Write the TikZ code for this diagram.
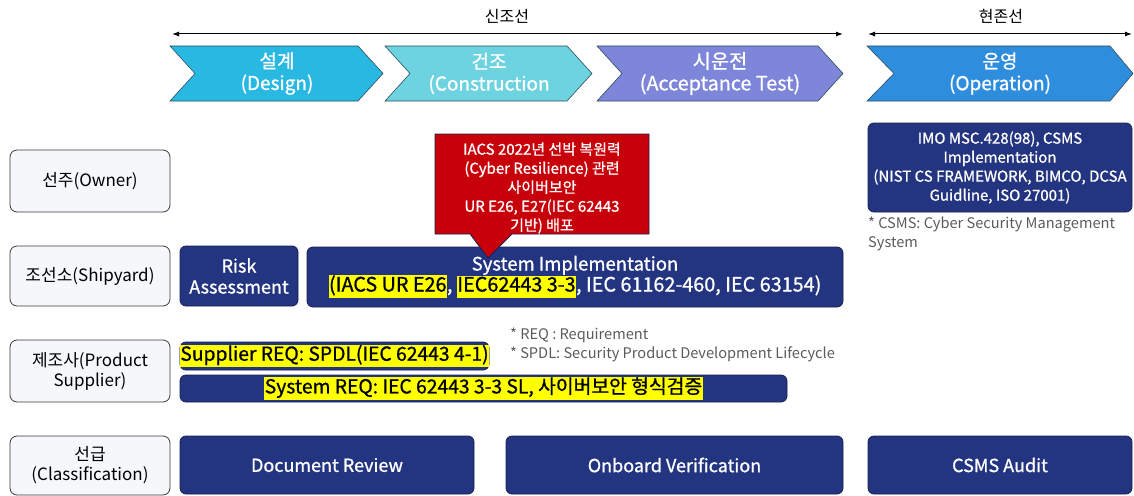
\documentclass[tikz,border=0pt]{standalone}
\usepackage{fontspec}
\setmainfont{Noto Sans CJK KR}
\newfontfamily\medfont[FakeBold=0.9]{Noto Sans CJK KR}
\usetikzlibrary{arrows.meta}
\definecolor{navy}{HTML}{233480}
\definecolor{navyline}{HTML}{1A2250}
\definecolor{labfill}{HTML}{F5F7FA}
\definecolor{labline}{HTML}{3A3A3A}
\definecolor{calred}{HTML}{C70009}
\definecolor{chevA}{HTML}{29B8E2}
\definecolor{chevB}{HTML}{6DD3E0}
\definecolor{chevC}{HTML}{7D86D9}
\definecolor{chevD}{HTML}{2F8DDE}
\definecolor{chevline}{HTML}{2E4E5E}
\definecolor{notegray}{HTML}{5A5A5A}
\definecolor{hly}{HTML}{FFFF00}
\newcommand{\hlt}[1]{{\setlength{\fboxsep}{0.4pt}\colorbox{hly}{\strut\color{black}#1}}}
\tikzset{
  labbox/.style={draw=labline, fill=labfill, line width=0.8pt, rounded corners=7pt,
    align=center, font=\fontsize{17}{20}\selectfont, text=black, inner sep=0pt},
  navybox/.style={draw=navyline, fill=navy, line width=0.8pt, rounded corners=6pt,
    align=center, font=\medfont\fontsize{18}{21}\selectfont, text=white, inner sep=0pt},
  chevshape/.style={draw=chevline, line width=0.6pt},
  chevtext/.style={align=center, font=\medfont\fontsize{19}{22}\selectfont, text=white},
  notetext/.style={align=left, text=notegray, font=\fontsize{14.6}{19}\selectfont, inner sep=0pt},
  toplabel/.style={font=\fontsize{16}{19}\selectfont, text=black},
  spanarrow/.style={{Latex[length=7pt,width=5pt]}-{Latex[length=7pt,width=5pt]}, line width=1pt},
}
\begin{document}
\begin{tikzpicture}[x=1pt,y=-1pt]
\useasboundingbox (0,0) rectangle (1134,495);

% top spans
\coordinate (nbL) at (172,34);
\coordinate (nbR) at (843,34);
\coordinate (exL) at (868,34);
\coordinate (exR) at (1132,34);
\draw[spanarrow] (nbL) -- (nbR);
\draw[spanarrow] (exL) -- (exR);
\node[toplabel] (newbuild) at (507,16) {신조선};
\node[toplabel] (existing) at (1001,16) {현존선};

% chevrons
\fill[chevA] (170,46) -- (358,46) -- (383,73.5) -- (358,101) -- (170,101) -- (195,73.5) -- cycle;
\draw[chevshape] (170,46) -- (358,46) -- (383,73.5) -- (358,101) -- (170,101) -- (195,73.5) -- cycle;
\node[chevtext] (design) at (277,73.5) {설계\\(Design)};

\fill[chevB] (385,46) -- (567,46) -- (592,73.5) -- (567,101) -- (385,101) -- (410,73.5) -- cycle;
\draw[chevshape] (385,46) -- (567,46) -- (592,73.5) -- (567,101) -- (385,101) -- (410,73.5) -- cycle;
\node[chevtext] (constr) at (489,73.5) {건조\\(Construction};

\fill[chevC] (597,46) -- (818,46) -- (843,73.5) -- (818,101) -- (597,101) -- (622,73.5) -- cycle;
\draw[chevshape] (597,46) -- (818,46) -- (843,73.5) -- (818,101) -- (597,101) -- (622,73.5) -- cycle;
\node[chevtext, font=\medfont\fontsize{19.8}{22}\selectfont] (accept) at (720,73.5) {시운전\\(Acceptance Test)};

\fill[chevD] (867,46) -- (1110,46) -- (1133,73.5) -- (1110,101) -- (867,101) -- (894,73.5) -- cycle;
\draw[chevshape] (867,46) -- (1110,46) -- (1133,73.5) -- (1110,101) -- (867,101) -- (894,73.5) -- cycle;
\node[chevtext] (oper) at (1000,73.5) {운영\\(Operation)};

% role labels
\node[labbox, minimum width=160pt, minimum height=62pt] (owner) at (90,181) {선주(Owner)};
\node[labbox, minimum width=160pt, minimum height=60pt] (shipyard) at (90,276) {조선소(Shipyard)};
\node[labbox, minimum width=160pt, minimum height=62pt] (supplier) at (90,371) {제조사(Product\\Supplier)};
\node[labbox, minimum width=160pt, minimum height=59pt] (classif) at (90,465.5) {선급\\(Classification)};

% owner / operation
\node[navybox, minimum width=264pt, minimum height=89pt, font=\medfont\fontsize{15}{19}\selectfont] (imo) at (1000,167.5)
  {IMO MSC.428(98), CSMS\\Implementation\\(NIST CS FRAMEWORK, BIMCO, DCSA\\Guidline, ISO 27001)};
\node[notetext, anchor=north west] (csmsnote) at (868,217) {* CSMS: Cyber Security Management\\System};

% shipyard
\node[navybox, minimum width=118pt, minimum height=60pt] (risk) at (239,276) {Risk\\Assessment};
\node[navybox, minimum width=536pt, minimum height=60pt, font=\medfont\fontsize{18.5}{21}\selectfont] (sysimpl) at (575,277)
  {System Implementation\\{\fontsize{19.8}{21}\selectfont\hlt{(IACS UR E26}, \hlt{IEC62443 3-3}, IEC 61162-460, IEC 63154)}};

% callout
\coordinate (cA) at (435,134);
\coordinate (cB) at (649,134);
\coordinate (cC) at (649,234);
\coordinate (cD) at (512,234);
\coordinate (cTip) at (488,258);
\coordinate (cE) at (470,234);
\coordinate (cF) at (435,234);
\filldraw[fill=calred, draw=navyline, line width=0.8pt] (cA) -- (cB) -- (cC) -- (cD) -- (cTip) -- (cE) -- (cF) -- cycle;
\node[align=center, text=white, font=\medfont\fontsize{15}{19}\selectfont] (callout) at (542,188)
  {IACS 2022년 선박 복원력\\(Cyber Resilience) 관련\\사이버보안\\UR E26, E27(IEC 62443\\기반) 배포};

% product supplier
\node[navybox, minimum width=309pt, minimum height=28pt, font=\medfont\fontsize{19.3}{21}\selectfont] (supreq) at (334.5,356)
  {\hlt{Supplier REQ: SPDL(IEC 62443 4-1)}};
\node[navybox, minimum width=607pt, minimum height=27pt, font=\medfont\fontsize{19.3}{21}\selectfont] (sysreq) at (483.5,388.5)
  {\hlt{System REQ: IEC 62443 3-3 SL, 사이버보안 형식검증}};
\node[notetext, anchor=north west] (reqnote) at (510,328) {* REQ : Requirement\\* SPDL: Security Product Development Lifecycle};

% classification
\node[navybox, minimum width=294pt, minimum height=58pt] (docrev) at (327,465) {Document Review};
\node[navybox, minimum width=337pt, minimum height=58pt] (onboard) at (674.5,465) {Onboard Verification};
\node[navybox, minimum width=264pt, minimum height=58pt] (audit) at (1000,465) {CSMS Audit};
\end{tikzpicture}
\end{document}
